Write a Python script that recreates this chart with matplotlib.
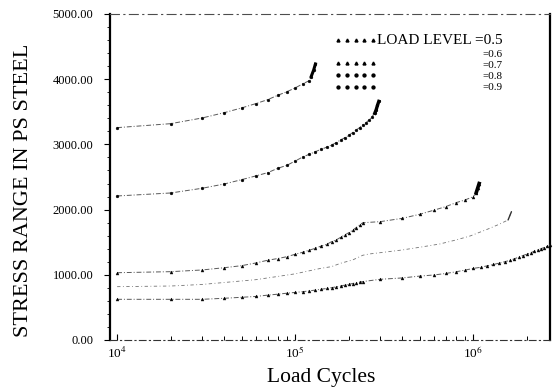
import matplotlib
matplotlib.use("Agg")
import matplotlib.pyplot as plt
from matplotlib.ticker import FixedLocator, FuncFormatter, MultipleLocator, NullFormatter

# ---------------- data ----------------
load_levels = ["0.5", "0.6", "0.7", "0.8", "0.9"]

# cycles in units of 10^4
cycles_05 = [1, 2, 3, 4, 5, 6, 7, 8, 9, 10, 11, 12, 13, 14, 15, 16, 17, 18, 19, 20, 21, 22, 23, 24,
             30, 40, 50, 60, 70, 80, 90, 100, 110, 120, 130, 140, 150, 160, 170, 180, 190, 200,
             210, 220, 230, 240, 250, 260, 270]
stress_05 = [624, 624, 624, 640, 655, 668, 688, 703, 718, 730, 741, 753, 766, 779, 790, 803, 815,
             828, 842, 854, 866, 878, 888, 896,
             931, 952, 980, 997, 1020, 1046, 1072, 1098, 1115, 1138, 1158, 1180, 1200, 1220,
             1245, 1270, 1295, 1316, 1338, 1360, 1380, 1400, 1418, 1438, 1457]

cycles_06 = [1, 2, 3, 4, 6, 8, 10, 14, 16, 18, 21, 24, 26, 30, 40, 50, 65, 80, 96, 120, 141,
             157, 164]
stress_06 = [818, 828, 852, 882, 925, 975, 1015, 1100, 1125, 1177, 1227, 1300, 1319, 1339, 1381,
             1422, 1473, 1534, 1595, 1698, 1779, 1841, 1968]

cycles_07 = [1, 2, 3, 4, 5, 6, 7, 8, 9, 10, 11, 12, 13, 14, 15, 16, 17, 18, 19, 20, 21, 22, 23, 24,
             30, 40, 50, 60, 70, 80, 90, 100, 104, 106, 108]
stress_07 = [1032, 1048, 1074, 1109, 1140, 1181, 1223, 1250, 1278, 1315, 1345, 1378, 1407, 1442,
             1465, 1508, 1534, 1575, 1611, 1646, 1683, 1723, 1764, 1799,
             1815, 1866, 1928, 1990, 2045, 2106, 2148, 2198, 2260, 2330, 2400]

cycles_08 = [1, 2, 3, 4, 5, 6, 7, 8, 9, 10, 11, 12, 13, 14, 15, 16, 17, 18, 19, 20, 21, 22, 23,
             24, 25, 26, 27, 28, 28.5, 29, 29.5]
stress_08 = [2209, 2255, 2327, 2393, 2459, 2516, 2566, 2634, 2680, 2745, 2805, 2849, 2889, 2925,
             2956, 2990, 3027, 3068, 3103, 3140, 3180, 3221, 3257, 3298, 3333, 3375, 3425, 3478,
             3530, 3600, 3660]

cycles_09 = [1, 2, 3, 4, 5, 6, 7, 8, 9, 10, 11, 12, 12.3, 12.7, 13.0]
stress_09 = [3257, 3318, 3405, 3487, 3559, 3625, 3686, 3754, 3809, 3866, 3927, 3978, 4040, 4140,
             4234]

yticks = [0, 1000, 2000, 3000, 4000, 5000]
xticks = [1e4, 1e5, 1e6]
xtick_labels = ["10$^4$", "10$^5$", "10$^6$"]

# ---------------- figure ----------------
plt.rcParams["font.family"] = ["Liberation Serif", "DejaVu Serif"]
plt.rcParams["mathtext.fontset"] = "stix"

fig = plt.figure(figsize=(5.58, 3.87), dpi=100)
ax = fig.add_axes([110 / 558, 47 / 387, 440 / 558, 326 / 387])

unit = 1e4
def X(c):
    return [v * unit for v in c]

line_kw = dict(color="0.35", linewidth=0.7, linestyle=(0, (5, 2, 1, 2)))

# 0.5
ax.plot(X(cycles_05), stress_05, marker="^", markersize=2.1, markerfacecolor="black",
        markeredgecolor="black", markeredgewidth=0.3, **line_kw, clip_on=False, zorder=3)
# 0.6 (thin line only)
ax.plot(X(cycles_06), stress_06, color="0.45", linewidth=0.6, linestyle=(0, (4, 3, 1, 3)), zorder=2)
ax.plot(X(cycles_06[-2:]), stress_06[-2:], color="0.2", linewidth=1.0, solid_capstyle="round", zorder=2)
# 0.7
ax.plot(X(cycles_07), stress_07, marker="^", markersize=2.1, markerfacecolor="black",
        markeredgecolor="black", markeredgewidth=0.3, **line_kw, zorder=3)
ax.plot(X(cycles_07[-3:]), stress_07[-3:], color="black", linewidth=2.6, zorder=3)
# 0.8
ax.plot(X(cycles_08), stress_08, marker="o", markersize=2.0, markerfacecolor="black",
        markeredgecolor="black", markeredgewidth=0.3, **line_kw, zorder=3)
ax.plot(X(cycles_08[-4:]), stress_08[-4:], color="black", linewidth=2.4, zorder=3)
# 0.9
ax.plot(X(cycles_09), stress_09, marker="o", markersize=2.0, markerfacecolor="black",
        markeredgecolor="black", markeredgewidth=0.3, **line_kw, zorder=3)
ax.plot(X(cycles_09[-3:]), stress_09[-3:], color="black", linewidth=2.2, zorder=3)

# ---------------- axes ----------------
ax.set_xscale("log")
ax.set_xlim(9.12e3, 2.70e6)
ax.set_ylim(0, 5000)

ax.xaxis.set_major_locator(FixedLocator(xticks))
ax.set_xticklabels(xtick_labels, fontsize=9.5)
minor = [m * 10 ** e for e in (3, 4, 5, 6) for m in range(2, 10)]
ax.xaxis.set_minor_locator(FixedLocator(minor))
ax.xaxis.set_minor_formatter(NullFormatter())

ax.yaxis.set_major_locator(FixedLocator(yticks))
ax.yaxis.set_major_formatter(FuncFormatter(lambda v, p: f"{v:.2f}"))
ax.yaxis.set_minor_locator(MultipleLocator(200))

ax.tick_params(axis="x", which="major", direction="in", length=4, width=0.8, pad=4,
               top=False, bottom=True)
ax.tick_params(axis="x", which="minor", direction="in", length=3, width=0.7, top=False)
ax.tick_params(axis="y", which="major", direction="out", length=4, width=0.8, pad=8,
               right=False, labelsize=9)
ax.tick_params(axis="y", which="minor", direction="out", length=2.5, width=0.6, right=False)

ax.spines["left"].set_linewidth(1.6)
ax.spines["right"].set_linewidth(1.6)
ax.spines["top"].set_linewidth(0.8)
ax.spines["top"].set_color("0.3")
ax.spines["top"].set_linestyle((0, (8, 4, 1, 4)))
ax.spines["bottom"].set_linewidth(0.8)
ax.spines["bottom"].set_color("0.2")
ax.spines["bottom"].set_linestyle((0, (6, 3, 1, 3)))

ax.set_ylabel("STRESS RANGE IN PS STEEL", fontsize=16)
ax.yaxis.set_label_coords(-0.175, 0.46)
ax.set_xlabel("Load Cycles", fontsize=15.5)
ax.xaxis.set_label_coords(0.48, -0.085)

# ---------------- legend (manual) ----------------
leg_markers = ["^", None, "^", "o", "o"]
leg_marker_y = [0.920, 0.883, 0.850, 0.813, 0.776]
leg_text_y = [0.918, 0.877, 0.843, 0.809, 0.775]
leg_x = [0.518, 0.538, 0.558, 0.578, 0.598]
for i, lvl in enumerate(load_levels):
    if leg_markers[i] is not None:
        ax.plot(leg_x, [leg_marker_y[i]] * 5, linestyle="none", marker=leg_markers[i],
                markersize=2.1, color="black", transform=ax.transAxes, clip_on=False)
    label = ("LOAD LEVEL =" if i == 0 else "=") + lvl
    ax.text(0.893, leg_text_y[i], label, transform=ax.transAxes, ha="right", va="center",
            fontsize=11 if i == 0 else 8)

fig.savefig("out.png", dpi=100)
